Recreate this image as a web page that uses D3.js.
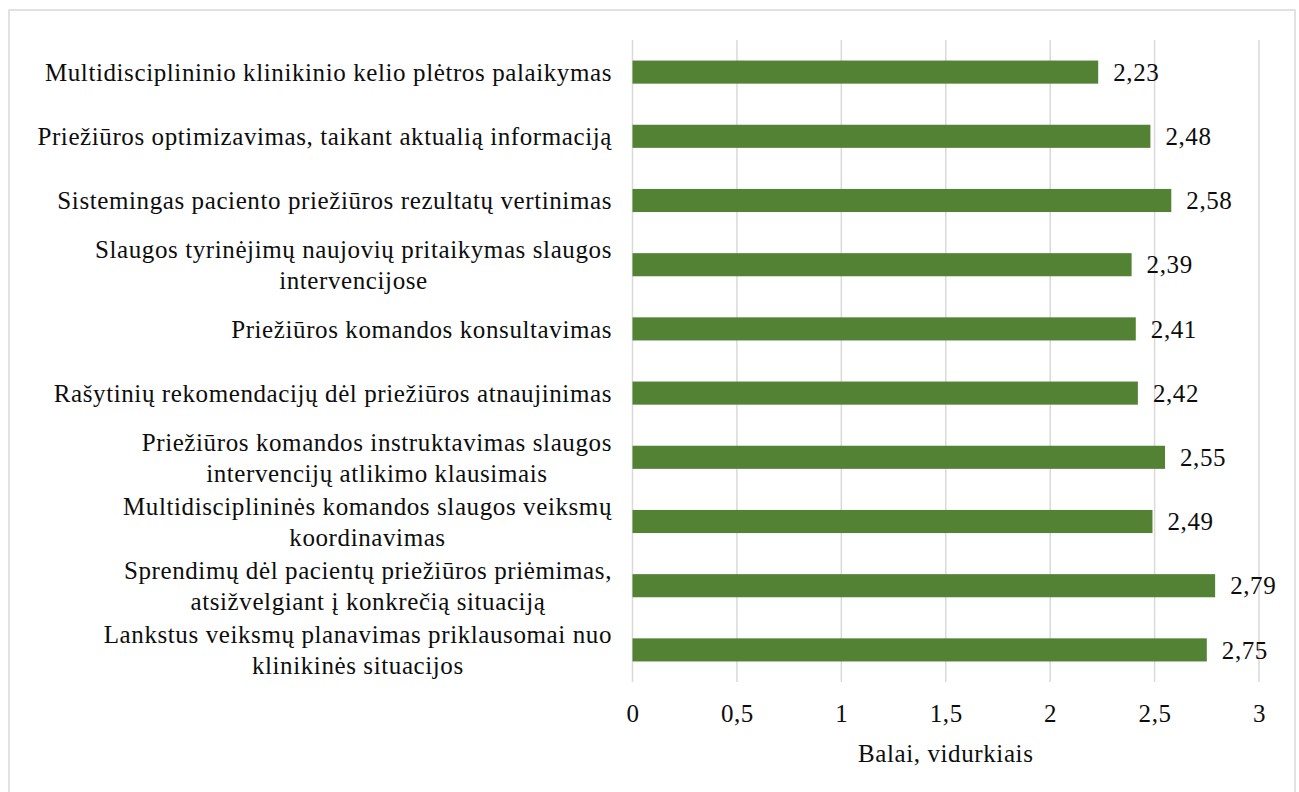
<!DOCTYPE html>
<html>
<head>
<meta charset="utf-8">
<script src="https://cdn.jsdelivr.net/npm/d3@7"></script>
<style>
  body { margin: 0; background: #fff; }
</style>
</head>
<body>
<svg width="1299" height="792"></svg>
<script>
// categories, top to bottom (lines split as in the picture)
const categories = [
  ["Multidisciplininio klinikinio kelio plėtros palaikymas"],
  ["Priežiūros optimizavimas, taikant aktualią informaciją"],
  ["Sistemingas paciento priežiūros rezultatų vertinimas"],
  ["Slaugos tyrinėjimų naujovių pritaikymas slaugos", "intervencijose"],
  ["Priežiūros komandos konsultavimas"],
  ["Rašytinių rekomendacijų dėl priežiūros atnaujinimas"],
  ["Priežiūros komandos instruktavimas slaugos", "intervencijų atlikimo klausimais"],
  ["Multidisciplininės komandos slaugos veiksmų", "koordinavimas"],
  ["Sprendimų dėl pacientų priežiūros priėmimas,", "atsižvelgiant į konkrečią situaciją"],
  ["Lankstus veiksmų planavimas priklausomai nuo", "klinikinės situacijos"]
];
const values = [2.23, 2.48, 2.58, 2.39, 2.41, 2.42, 2.55, 2.49, 2.79, 2.75];
const xTicks = [0, 0.5, 1, 1.5, 2, 2.5, 3];
const xTitle = "Balai, vidurkiais";

const svg = d3.select("svg");
const FONT = "'Liberation Serif', 'Times New Roman', serif";
const fontSize = 25;
const spacing = "0.6px";
const textCol = "#0d0d0d";
const fmt = v => String(v).replace(".", ",");

const margin = { left: 632.5, right: 40, top: 40, bottom: 110 };
const width = +svg.attr("width");
const height = +svg.attr("height");

// chart frame
svg.append("rect")
  .attr("x", 9).attr("y", 10)
  .attr("width", 1286).attr("height", 800)
  .attr("fill", "none")
  .attr("stroke", "#d9d9d9")
  .attr("stroke-width", 1.5);

const x = d3.scaleLinear().domain([0, 3]).range([margin.left, width - margin.right]);
const y = d3.scaleBand()
  .domain(d3.range(categories.length))
  .range([margin.top, height - margin.bottom])
  .paddingInner(0.64)
  .paddingOuter(0.32);

// gridlines
svg.append("g")
  .selectAll("line")
  .data(xTicks)
  .join("line")
  .attr("x1", d => x(d)).attr("x2", d => x(d))
  .attr("y1", margin.top).attr("y2", height - margin.bottom)
  .attr("stroke", "#d9d9d9")
  .attr("stroke-width", 1.5);

// x axis labels
const xAxis = d3.axisBottom(x).tickValues(xTicks).tickFormat(fmt).tickSize(0).tickPadding(22);
const gx = svg.append("g")
  .attr("transform", `translate(0,${height - margin.bottom})`)
  .call(xAxis)
  .attr("font-family", FONT)
  .attr("font-size", fontSize);
gx.select(".domain").remove();
gx.selectAll("text")
  .attr("fill", textCol)
  .attr("letter-spacing", spacing);

svg.append("text")
  .attr("x", (x(0) + x(3)) / 2)
  .attr("y", 762)
  .attr("text-anchor", "middle")
  .attr("font-family", FONT)
  .attr("font-size", fontSize)
  .attr("letter-spacing", spacing)
  .attr("fill", textCol)
  .text(xTitle);

// bars
svg.append("g")
  .selectAll("rect")
  .data(values)
  .join("rect")
  .attr("x", x(0))
  .attr("y", (d, i) => y(i))
  .attr("width", d => x(d) - x(0))
  .attr("height", y.bandwidth())
  .attr("fill", "#548235");

// value labels
svg.append("g")
  .selectAll("text")
  .data(values)
  .join("text")
  .attr("x", d => x(d) + 15)
  .attr("y", (d, i) => y(i) + y.bandwidth() / 2)
  .attr("dy", "0.35em")
  .attr("font-family", FONT)
  .attr("font-size", fontSize)
  .attr("letter-spacing", spacing)
  .attr("fill", textCol)
  .text(fmt);

// category labels, multi-line ones centred as a block ending at the right edge
const labelRight = 612;
const lineH = 31;
const lg = svg.append("g");
categories.forEach((lines, i) => {
  const t = lg.append("text")
    .attr("font-family", FONT)
    .attr("font-size", fontSize)
    .attr("letter-spacing", spacing)
    .attr("fill", textCol);
  const cy = y(i) + y.bandwidth() / 2;
  const spans = lines.map((s, k) => t.append("tspan")
    .attr("y", cy + (k - (lines.length - 1) / 2) * lineH)
    .attr("dy", "0.35em")
    .text(s));
  if (lines.length === 1) {
    t.attr("text-anchor", "end");
    spans[0].attr("x", labelRight);
  } else {
    const w = d3.max(spans, s => s.node().getComputedTextLength());
    t.attr("text-anchor", "middle");
    spans.forEach(s => s.attr("x", labelRight - w / 2));
  }
});
</script>
</body>
</html>
